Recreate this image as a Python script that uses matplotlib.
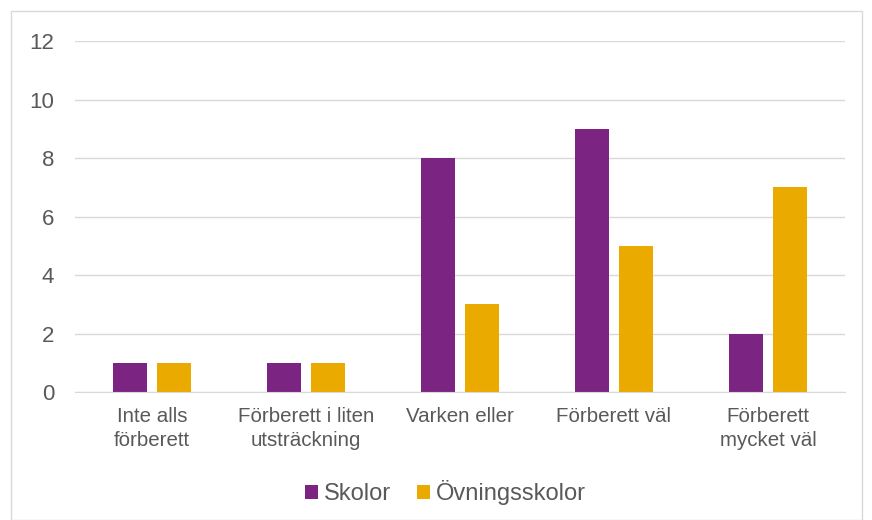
import numpy as np
import matplotlib.pyplot as plt
from matplotlib.patches import Rectangle

plt.rcParams['font.family'] = ['Liberation Sans', 'DejaVu Sans']

categories = ["Inte alls\nförberett", "Förberett i liten\nutsträckning", "Varken eller",
              "Förberett väl", "Förberett\nmycket väl"]
skolor = [1, 1, 8, 9, 2]
ovningsskolor = [1, 1, 3, 5, 7]

purple = "#7B2481"
orange = "#EAAA00"
textcol = "#595959"

fig = plt.figure(figsize=(8.72, 5.2), dpi=100)
ax = fig.add_axes([0.086, 0.246, 0.883, 0.675])

x = np.arange(len(categories))
w = 0.22
ax.bar(x - 0.143, skolor, w, color=purple, label="Skolor")
ax.bar(x + 0.143, ovningsskolor, w, color=orange, label="Övningsskolor")

ax.set_xlim(-0.5, len(categories) - 0.5)
ax.set_ylim(0, 12)
ax.set_yticks(range(0, 13, 2))
ax.grid(axis='y', color='#d9d9d9', linewidth=1)
ax.set_axisbelow(True)
for s in ['top', 'right', 'left']:
    ax.spines[s].set_visible(False)
ax.spines['bottom'].set_color('#d9d9d9')
ax.set_xticks(x)
ax.set_xticklabels(categories, fontsize=14.8, color=textcol, linespacing=1.3)
ax.tick_params(axis='both', length=0, colors=textcol)
ax.tick_params(axis='y', pad=15, labelsize=16)
ax.tick_params(axis='x', pad=11)

fig.legend(loc='lower center', bbox_to_anchor=(0.511, -0.012), ncol=2, frameon=False,
           fontsize=17, labelcolor=textcol, handlelength=0.55, handleheight=0.55,
           handletextpad=0.25, columnspacing=1.1)

fig.patches.append(Rectangle((11 / 872, 0), 851 / 872, 1 - 11 / 520, transform=fig.transFigure,
                             fill=False, edgecolor='#d9d9d9', linewidth=1))

fig.savefig("out.png", dpi=100)
